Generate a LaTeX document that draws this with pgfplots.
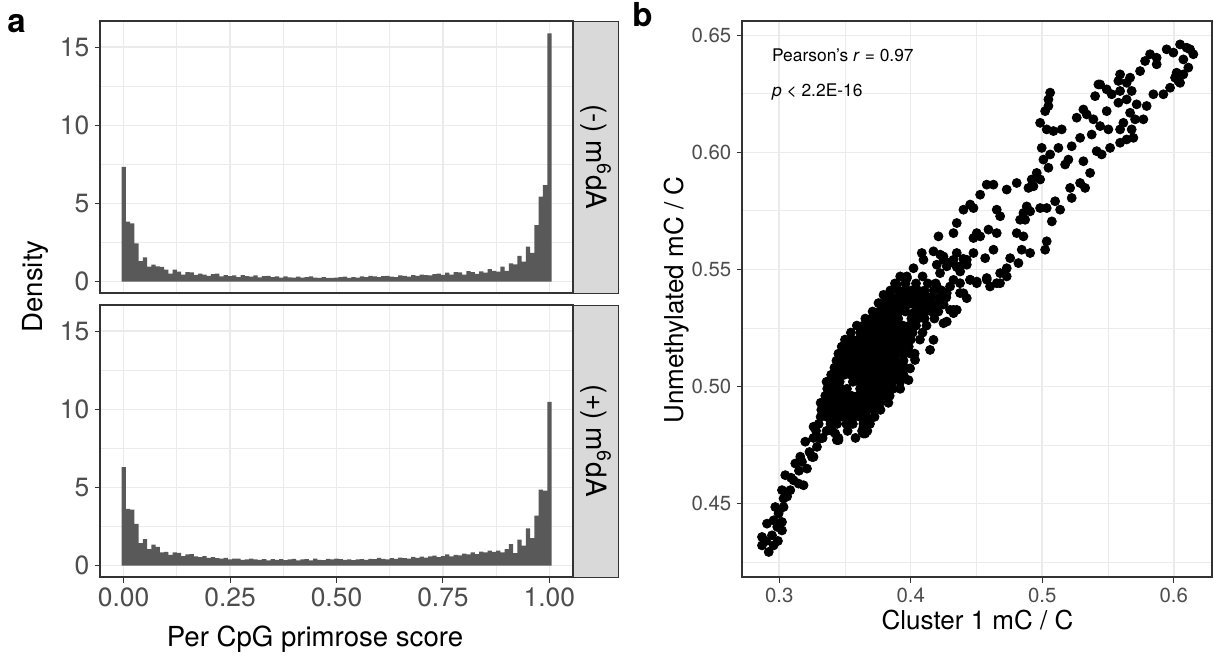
\documentclass[border=0pt]{standalone}
\usepackage{fontspec}
\setmainfont{TeX Gyre Heros}
\usepackage{pgfplots}
\usepackage{pgfplotstable}
\pgfplotsset{compat=1.18}
\definecolor{grey20}{HTML}{333333}
\definecolor{grey30}{HTML}{4D4D4D}
\definecolor{grey35}{HTML}{595959}
\definecolor{grey85}{HTML}{D9D9D9}
\definecolor{grey92}{HTML}{EBEBEB}

\pgfplotsset{gg/.style={
  scale only axis, anchor=south west,
  axis line style={grey20, line width=0.55pt},
  tick align=outside, tick pos=left,
  major tick length=2.75pt, minor tick length=0pt,
  tick style={grey20, line width=0.55pt},
  grid=both,
  major grid style={grey92, line width=0.75pt},
  minor grid style={grey92, line width=0.4pt},
  ticklabel style={text=grey30, inner sep=0pt},
  yticklabel style={xshift=-2.4pt},
  xticklabel style={yshift=-2.4pt},
}}

% histogram densities, bins of width 0.01 centred on 0.00 ... 1.00 (last row repeats the last bin)
\pgfplotstableread{
y
7.35
3.84
3.73
2.45
1.32
1.56
0.96
1.10
0.98
0.95
0.78
0.52
0.78
0.64
0.45
0.62
0.60
0.44
0.52
0.45
0.38
0.48
0.52
0.35
0.42
0.36
0.40
0.30
0.42
0.36
0.33
0.40
0.28
0.36
0.37
0.30
0.35
0.26
0.34
0.28
0.27
0.33
0.26
0.30
0.34
0.26
0.25
0.30
0.24
0.25
0.26
0.30
0.32
0.24
0.30
0.26
0.34
0.30
0.37
0.34
0.30
0.36
0.38
0.32
0.30
0.40
0.37
0.33
0.42
0.38
0.45
0.42
0.40
0.48
0.52
0.44
0.58
0.45
0.62
0.60
0.45
0.68
0.62
0.50
0.66
0.58
0.80
0.70
0.64
0.96
0.70
1.17
1.11
1.66
1.28
2.24
1.85
3.62
5.44
6.18
15.88
15.88
}\histtop

\pgfplotstableread{
y
6.30
3.63
3.59
2.67
1.45
1.71
1.07
1.35
1.20
0.85
0.88
0.70
0.85
0.82
0.62
0.72
0.75
0.60
0.55
0.62
0.50
0.55
0.48
0.45
0.50
0.40
0.45
0.46
0.38
0.40
0.45
0.40
0.38
0.42
0.35
0.42
0.38
0.42
0.36
0.40
0.44
0.35
0.40
0.42
0.34
0.46
0.38
0.36
0.44
0.40
0.46
0.42
0.38
0.40
0.36
0.40
0.42
0.38
0.44
0.42
0.50
0.44
0.40
0.48
0.44
0.52
0.48
0.45
0.56
0.50
0.58
0.52
0.60
0.64
0.55
0.62
0.72
0.60
0.70
0.66
0.78
0.72
0.85
0.74
0.90
0.86
0.96
0.88
0.96
0.85
1.07
1.39
0.81
1.67
1.28
2.39
1.77
3.21
4.87
4.81
10.47
10.47
}\histbot

\pgfplotstableread{
x y
0.2920 0.4293
0.2869 0.4321
0.2957 0.4321
0.2869 0.4357
0.2945 0.4364
0.3021 0.4385
0.2907 0.4414
0.2957 0.4428
0.3021 0.4421
0.2970 0.4485
0.3033 0.4485
0.2995 0.4457
0.3033 0.4521
0.3021 0.4557
0.3084 0.4557
0.3046 0.4621
0.3109 0.4599
0.3147 0.4585
0.3185 0.4578
0.3122 0.4671
0.3173 0.4678
0.3211 0.4649
0.3249 0.4699
0.3198 0.4764
0.3287 0.4742
0.3312 0.4778
0.3451 0.4771
0.3426 0.4799
0.3641 0.4799
0.3654 0.4821
0.3261 0.4828
0.3388 0.4856
0.2900 0.4340
0.2985 0.4400
0.3000 0.4470
0.2990 0.4340
0.3060 0.4530
0.3150 0.4640
0.3090 0.4610
0.3160 0.4700
0.3230 0.4720
0.3261 0.4699
0.3438 0.4771
0.3653 0.4799
0.3641 0.4828
0.3692 0.5284
0.3755 0.5356
0.3793 0.5391
0.3894 0.5434
0.3970 0.5470
0.4173 0.5199
0.4147 0.5156
0.4033 0.5113
0.3995 0.5077
0.3983 0.5027
0.4249 0.5270
0.4325 0.5313
0.4350 0.5327
0.3501 0.5186
0.3489 0.5157
0.4401 0.5398
0.4299 0.5327
0.4274 0.5277
0.4198 0.5520
0.4249 0.5555
0.4300 0.5530
0.4350 0.5510
0.4400 0.5545
0.4426 0.5520
0.4375 0.5441
0.4451 0.5455
0.4502 0.5448
0.4603 0.5427
0.4679 0.5441
0.4578 0.5463
0.326 0.478
0.333 0.478
0.345 0.478
0.358 0.478
0.328 0.481
0.336 0.481
0.340 0.481
0.352 0.481
0.363 0.481
0.367 0.481
0.330 0.484
0.339 0.484
0.344 0.484
0.351 0.484
0.356 0.484
0.364 0.484
0.369 0.484
0.3315 0.487
0.3365 0.487
0.3415 0.487
0.3465 0.487
0.3515 0.487
0.3565 0.487
0.3615 0.487
0.3665 0.487
0.3725 0.487
0.332 0.490
0.337 0.490
0.342 0.490
0.347 0.490
0.352 0.490
0.357 0.490
0.362 0.490
0.367 0.490
0.372 0.490
0.377 0.490
0.3315 0.493
0.3365 0.493
0.3415 0.493
0.3465 0.493
0.3515 0.493
0.3565 0.493
0.3615 0.493
0.3665 0.493
0.3715 0.493
0.3765 0.493
0.3830 0.493
0.335 0.496
0.340 0.496
0.345 0.496
0.350 0.496
0.355 0.496
0.360 0.496
0.365 0.496
0.370 0.496
0.375 0.496
0.380 0.496
0.384 0.496
0.3365 0.499
0.3415 0.499
0.3465 0.499
0.3515 0.499
0.3615 0.499
0.3665 0.499
0.3715 0.499
0.3765 0.499
0.3815 0.499
0.3865 0.499
0.3920 0.499
0.336 0.502
0.341 0.502
0.346 0.502
0.356 0.502
0.361 0.502
0.366 0.502
0.371 0.502
0.376 0.502
0.381 0.502
0.386 0.502
0.392 0.502
0.3395 0.505
0.3445 0.505
0.3495 0.505
0.3545 0.505
0.3595 0.505
0.3645 0.505
0.3695 0.505
0.3745 0.505
0.3795 0.505
0.3845 0.505
0.3895 0.505
0.3945 0.505
0.342 0.508
0.347 0.508
0.352 0.508
0.357 0.508
0.362 0.508
0.367 0.508
0.372 0.508
0.377 0.508
0.382 0.508
0.387 0.508
0.392 0.508
0.396 0.508
0.3435 0.511
0.3485 0.511
0.3535 0.511
0.3585 0.511
0.3635 0.511
0.3685 0.511
0.3735 0.511
0.3785 0.511
0.3835 0.511
0.3885 0.511
0.3945 0.511
0.345 0.514
0.350 0.514
0.355 0.514
0.360 0.514
0.365 0.514
0.370 0.514
0.375 0.514
0.380 0.514
0.385 0.514
0.390 0.514
0.395 0.514
0.400 0.514
0.403 0.514
0.3475 0.517
0.3525 0.517
0.3575 0.517
0.3625 0.517
0.3675 0.517
0.3725 0.517
0.3775 0.517
0.3825 0.517
0.3875 0.517
0.3925 0.517
0.3985 0.517
0.350 0.520
0.355 0.520
0.360 0.520
0.365 0.520
0.370 0.520
0.375 0.520
0.380 0.520
0.385 0.520
0.390 0.520
0.395 0.520
0.400 0.520
0.407 0.520
0.3545 0.523
0.3615 0.523
0.3665 0.523
0.3715 0.523
0.3765 0.523
0.3815 0.523
0.3865 0.523
0.3915 0.523
0.3965 0.523
0.4015 0.523
0.4090 0.523
0.359 0.526
0.364 0.526
0.369 0.526
0.374 0.526
0.379 0.526
0.384 0.526
0.389 0.526
0.394 0.526
0.399 0.526
0.404 0.526
0.412 0.526
0.3655 0.529
0.3705 0.529
0.3755 0.529
0.3805 0.529
0.3855 0.529
0.3905 0.529
0.4005 0.529
0.4055 0.529
0.4105 0.529
0.4180 0.529
0.371 0.532
0.376 0.532
0.381 0.532
0.386 0.532
0.391 0.532
0.396 0.532
0.406 0.532
0.411 0.532
0.416 0.532
0.421 0.532
0.3775 0.535
0.3825 0.535
0.3875 0.535
0.3925 0.535
0.3975 0.535
0.4025 0.535
0.4075 0.535
0.4125 0.535
0.4175 0.535
0.4250 0.535
0.381 0.538
0.386 0.538
0.391 0.538
0.396 0.538
0.401 0.538
0.406 0.538
0.411 0.538
0.416 0.538
0.422 0.538
0.427 0.538
0.3845 0.541
0.3905 0.541
0.3955 0.541
0.4005 0.541
0.4055 0.541
0.4105 0.541
0.4175 0.541
0.4235 0.541
0.388 0.544
0.396 0.544
0.404 0.544
0.413 0.544
0.419 0.544
0.392 0.547
0.409 0.547
0.4274 0.5513
0.4375 0.5513
0.4223 0.5484
0.4325 0.5455
0.4198 0.5427
0.4274 0.5399
0.4122 0.5384
0.4223 0.5356
0.4097 0.5327
0.4020 0.5313
0.4325 0.5327
0.4375 0.5399
0.4426 0.5377
0.4299 0.5427
0.4084 0.5570
0.4224 0.5563
0.4249 0.5541
0.4325 0.5541
0.4426 0.5541
0.4376 0.5491
0.4452 0.5456
0.4502 0.5441
0.4578 0.5456
0.4654 0.5441
0.4730 0.5470
0.4730 0.5505
0.4680 0.5484
0.4819 0.5527
0.4908 0.5570
0.4844 0.5584
0.4756 0.5548
0.4629 0.5584
0.4566 0.5548
0.4477 0.5570
0.4654 0.5655
0.4528 0.5641
0.4477 0.5634
0.4591 0.5670
0.4806 0.5655
0.4857 0.5641
0.4832 0.5712
0.4857 0.5741
0.4908 0.5748
0.4984 0.5762
0.5034 0.5762
0.5098 0.5791
0.5136 0.5755
0.5073 0.5705
0.4654 0.5755
0.4680 0.5727
0.5034 0.5620
0.5022 0.5584
0.4882 0.5769
0.4870 0.5712
0.4350 0.5570
0.4502 0.5655
0.5060 0.6255
0.5047 0.6226
0.5047 0.6198
0.5022 0.6176
0.4984 0.6126
0.5034 0.6098
0.5085 0.6091
0.5148 0.6098
0.4996 0.6019
0.5060 0.5991
0.5009 0.5969
0.5047 0.5934
0.5123 0.6019
0.5174 0.5948
0.5199 0.5969
0.4958 0.5912
0.4920 0.5884
0.4984 0.5884
0.4895 0.5848
0.4933 0.5855
0.4806 0.5869
0.4730 0.5841
0.4578 0.5862
0.4629 0.5862
0.4528 0.5819
0.4452 0.5777
0.4477 0.5762
0.4401 0.5755
0.4350 0.5698
0.4325 0.5655
0.4211 0.5641
0.4173 0.5577
0.4097 0.5541
0.4021 0.5505
0.3971 0.5463
0.5402 0.6240
0.5440 0.6290
0.5490 0.6269
0.5528 0.6248
0.5592 0.6262
0.5642 0.6297
0.5680 0.6262
0.5579 0.6212
0.5642 0.6226
0.5718 0.6205
0.5668 0.6169
0.5706 0.6141
0.5617 0.6126
0.5592 0.6098
0.5680 0.6098
0.5642 0.6055
0.5693 0.6062
0.5592 0.6041
0.5516 0.6019
0.5452 0.5991
0.5414 0.6005
0.5490 0.6176
0.5338 0.6162
0.5389 0.6141
0.5313 0.6183
0.5262 0.6148
0.5440 0.6112
0.5503 0.6098
0.5376 0.6076
0.5288 0.6062
0.5224 0.6026
0.5313 0.5962
0.5364 0.5912
0.5326 0.5848
0.5288 0.5869
0.5212 0.5848
0.5224 0.5805
0.5769 0.6141
0.5794 0.6198
0.5845 0.6248
0.5921 0.6248
0.5972 0.6276
0.6010 0.6319
0.6048 0.6297
0.6073 0.6333
0.6022 0.6340
0.6048 0.6461
0.5946 0.6440
0.6098 0.6447
0.6149 0.6419
0.6124 0.6440
0.6111 0.6362
0.6073 0.6397
0.5997 0.6426
0.5820 0.6419
0.5870 0.6404
0.5782 0.6390
0.5744 0.6347
0.5668 0.6319
0.5592 0.6333
0.5579 0.6305
0.5427 0.6290
0.5870 0.6376
0.6035 0.6305
}\scatterdata

\begin{document}
\begin{tikzpicture}
\path[use as bounding box] (0,0) rectangle (607pt,327.5pt);

% ---- panel a, top facet
\begin{axis}[gg, at={(50pt,181pt)}, width=236.5pt, height=136pt,
  xmin=-0.0555, xmax=1.0555, ymin=-0.72, ymax=16.67,
  xtick={0,0.25,0.5,0.75,1}, xticklabels={}, xtick style={draw=none},
  minor xtick={0.125,0.375,0.625,0.875},
  ytick={0,5,10,15}, yticklabels={0,5,10,15},
  minor ytick={2.5,7.5,12.5},
  ticklabel style={font=\fontsize{13.2}{15}\selectfont},
]
\addplot[const plot, fill=grey35, draw=none] table[x expr={\coordindex*0.01-0.005}, y=y] {\histtop} \closedcycle;
\end{axis}

% ---- panel a, bottom facet
\begin{axis}[gg, at={(50pt,39pt)}, width=236.5pt, height=136pt,
  xmin=-0.0555, xmax=1.0555, ymin=-0.72, ymax=16.67,
  xtick={0,0.25,0.5,0.75,1}, xticklabels={0.00,0.25,0.50,0.75,1.00},
  minor xtick={0.125,0.375,0.625,0.875},
  ytick={0,5,10,15}, yticklabels={0,5,10,15},
  minor ytick={2.5,7.5,12.5},
  ticklabel style={font=\fontsize{13.2}{15}\selectfont},
]
\addplot[const plot, fill=grey35, draw=none] table[x expr={\coordindex*0.01-0.005}, y=y] {\histbot} \closedcycle;
\end{axis}

% strips
\draw[fill=grey85, draw=grey20, line width=0.4pt] (286.5pt,181pt) rectangle (309pt,317pt);
\draw[fill=grey85, draw=grey20, line width=0.4pt] (286.5pt,39pt) rectangle (309pt,175pt);
\draw[grey20, line width=0.55pt] (286.5pt,181pt) -- (286.5pt,317pt);
\draw[grey20, line width=0.55pt] (286.5pt,39pt) -- (286.5pt,175pt);
\node[rotate=-90, font=\fontsize{14}{16}\selectfont, text=black] at (297.9pt,249pt) {(-) m\textsuperscript{6}dA};
\node[rotate=-90, font=\fontsize{14}{16}\selectfont, text=black] at (297.9pt,107pt) {(+) m\textsuperscript{6}dA};

% axis titles panel a
\node[rotate=90, anchor=base, font=\fontsize{13.8}{16}\selectfont] at (21.5pt,184.25pt) {Density};
\node[anchor=base, font=\fontsize{13.8}{16}\selectfont] at (157.5pt,4.5pt) {Per CpG primrose score};

% ---- panel b
\begin{axis}[gg, at={(371pt,39pt)}, width=235pt, height=278pt,
  xmin=0.2717, xmax=0.6291, ymin=0.4186, ymax=0.6561,
  xtick={0.3,0.4,0.5,0.6}, xticklabels={0.3,0.4,0.5,0.6},
  minor xtick={0.35,0.45,0.55},
  ytick={0.45,0.5,0.55,0.6,0.65}, yticklabels={0.45,0.50,0.55,0.60,0.65},
  minor ytick={0.425,0.475,0.525,0.575,0.625},
  ticklabel style={font=\fontsize{10.2}{12}\selectfont},
]
\addplot[only marks, mark=*, mark size=2.25pt, color=black, mark options={fill=black, draw=black}] table[x=x, y=y] {\scatterdata};
\end{axis}

\node[anchor=base west, font=\fontsize{8.7}{10}\selectfont] at (382.5pt,296.6pt) {Pearson’s \textit{r} = 0.97};
\node[anchor=base west, font=\fontsize{8.7}{10}\selectfont] at (382.5pt,279.1pt) {\textit{p} < 2.2E-16};

\node[rotate=90, anchor=base, font=\fontsize{13}{15}\selectfont] at (341.5pt,177.5pt) {Unmethylated mC / C};
\node[anchor=base, font=\fontsize{13}{15}\selectfont] at (488.75pt,12.85pt) {Cluster 1 mC / C};

% panel tags
\node[anchor=base west, inner sep=0pt, font=\fontsize{16.5}{18}\selectfont\bfseries] at (3.5pt,311pt) {a};
\node[anchor=base west, inner sep=0pt, font=\fontsize{16.5}{18}\selectfont\bfseries] at (316pt,314pt) {b};
\end{tikzpicture}
\end{document}
